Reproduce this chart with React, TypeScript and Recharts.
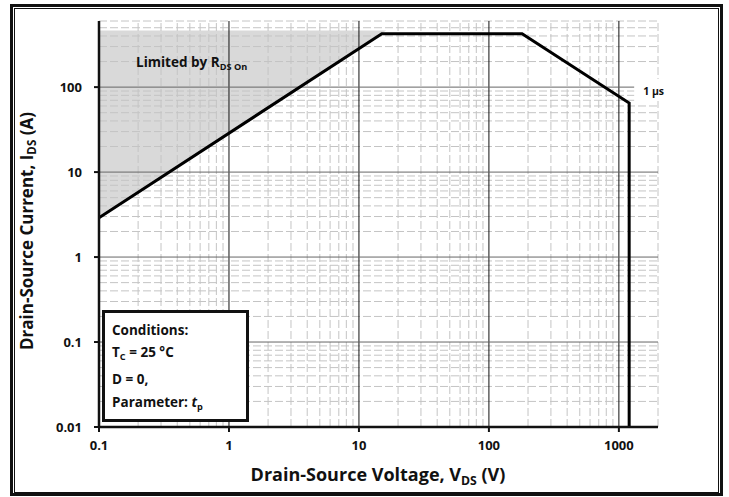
import { ComposedChart, Line, Area, XAxis, YAxis, ReferenceLine, ReferenceDot } from "recharts"

// axis ticks and grid positions (log decades)
const X_TICKS = [0.1, 1, 10, 100, 1000]
const Y_TICKS = [0.01, 0.1, 1, 10, 100]
const X_MAJOR = [1, 10, 100, 1000]
const Y_MAJOR = [0.1, 1, 10, 100]
const X_MINOR = [
  0.2, 0.3, 0.4, 0.5, 0.6, 0.7, 0.8, 0.9,
  2, 3, 4, 5, 6, 7, 8, 9,
  20, 30, 40, 50, 60, 70, 80, 90,
  200, 300, 400, 500, 600, 700, 800, 900,
  2000,
]
const Y_MINOR = [
  0.02, 0.03, 0.04, 0.05, 0.06, 0.07, 0.08, 0.09,
  0.2, 0.3, 0.4, 0.5, 0.6, 0.7, 0.8, 0.9,
  2, 3, 4, 5, 6, 7, 8, 9,
  20, 30, 40, 50, 60, 70, 80, 90,
  200, 300, 400, 500, 600,
]

// safe operating area boundary, tp = 1 µs
const SOA_V = [0.1, 15, 180, 1200, 1200]
const SOA_I = [2.9, 425, 425, 65, 0.01]

// region limited by RDS(on)
const RDS_V = [0.1, 16.2]
const RDS_LOW = [2.9, 465]
const RDS_TOP = [465, 465]

const FONT = "'Open Sans', Lato, sans-serif"
const tickStyle = { fontFamily: FONT, fontWeight: 700, fontSize: 13, fill: "#111" }
const sub = { fontSize: "0.68em", verticalAlign: "-0.3em" }

export default function App() {
  const soa = SOA_V.map((v, i) => ({ v, i: SOA_I[i] }))
  const rds = RDS_V.map((v, i) => ({ v, range: [RDS_LOW[i], RDS_TOP[i]] }))

  return (
    <div style={{ position: "absolute", left: 0, top: 0, width: 729, height: 497, background: "#fff", fontFamily: FONT }}>
      <div style={{ position: "absolute", left: 10, top: 4, width: 713, height: 492, border: "3px solid #111", boxSizing: "border-box" }} />
      <div style={{ position: "absolute", left: 14, top: 8, width: 705, height: 485, border: "1px solid #111", boxSizing: "border-box" }} />

      <ComposedChart
        width={729}
        height={497}
        margin={{ top: 21, right: 71, bottom: 30, left: 34 }}
        style={{ position: "absolute", left: 0, top: 0 }}
      >
        <XAxis
          dataKey="v"
          type="number"
          scale="log"
          domain={[0.1, 2000]}
          allowDataOverflow
          ticks={X_TICKS}
          tickFormatter={(v) => String(v)}
          tick={tickStyle}
          tickSize={5}
          tickMargin={9}
          tickLine={{ stroke: "#111", strokeWidth: 2 }}
          axisLine={{ stroke: "#111", strokeWidth: 2.5 }}
          height={40}
        />
        <YAxis
          dataKey="i"
          type="number"
          scale="log"
          domain={[0.01, 600]}
          allowDataOverflow
          ticks={Y_TICKS}
          tickFormatter={(v) => String(v)}
          tick={tickStyle}
          tickSize={5}
          tickMargin={12}
          tickLine={{ stroke: "#111", strokeWidth: 2 }}
          axisLine={{ stroke: "#111", strokeWidth: 2.5 }}
          width={65}
        />

        <Area
          data={rds}
          dataKey="range"
          type="linear"
          fill="#d9d9d9"
          fillOpacity={1}
          stroke="none"
          isAnimationActive={false}
        />

        {X_MINOR.map((x) => (
          <ReferenceLine key={"xm" + x} x={x} stroke="#c4c4c4" strokeDasharray="8 3" />
        ))}
        {Y_MINOR.map((y) => (
          <ReferenceLine key={"ym" + y} y={y} stroke="#c4c4c4" strokeDasharray="8 3" />
        ))}
        {X_MAJOR.map((x) => (
          <ReferenceLine key={"xM" + x} x={x} stroke="#111" strokeWidth={1} />
        ))}
        {Y_MAJOR.map((y) => (
          <ReferenceLine key={"yM" + y} y={y} stroke="#666" strokeWidth={1} />
        ))}

        <Line
          data={soa}
          dataKey="i"
          type="linear"
          stroke="#000"
          strokeWidth={3}
          dot={false}
          isAnimationActive={false}
        />

        <ReferenceDot
          x={1200}
          y={65}
          r={0}
          shape={({ cx, cy }: any) => (
            <g>
              <rect x={cx + 5} y={cy - 24} width={32} height={22} fill="#fff" />
              <text x={cx + 14} y={cy - 8} fontFamily={FONT} fontWeight={700} fontSize={10.5} fill="#111">
                1 µs
              </text>
            </g>
          )}
        />
      </ComposedChart>

      <div style={{ position: "absolute", left: 136, top: 53, fontSize: 13.5, fontWeight: 700, color: "#111", whiteSpace: "nowrap" }}>
        Limited by R<span style={sub}>DS On</span>
      </div>

      <div
        style={{
          position: "absolute",
          left: 102,
          top: 310,
          width: 147,
          height: 112,
          border: "3px solid #111",
          boxSizing: "border-box",
          background: "#fff",
          padding: "6px 0 0 7px",
          fontSize: 13.5,
          fontWeight: 700,
          color: "#111",
          lineHeight: "22.3px",
        }}
      >
        <div>Conditions:</div>
        <div>T<span style={sub}>C</span> = 25 °C</div>
        <div>D = 0,</div>
        <div>Parameter: <i>t</i><span style={sub}>p</span></div>
      </div>

      <div style={{ position: "absolute", left: 178, width: 400, top: 462, textAlign: "center", fontSize: 18, fontWeight: 700, color: "#111", whiteSpace: "nowrap" }}>
        Drain-Source Voltage, V<span style={sub}>DS</span> (V)
      </div>

      <div
        style={{
          position: "absolute",
          left: 27 - 200,
          top: 231 - 12,
          width: 400,
          height: 24,
          lineHeight: "24px",
          textAlign: "center",
          transform: "rotate(-90deg)",
          fontSize: 17,
          fontWeight: 700,
          color: "#111",
          whiteSpace: "nowrap",
        }}
      >
        Drain-Source Current, I<span style={sub}>DS</span> (A)
      </div>
    </div>
  )
}
